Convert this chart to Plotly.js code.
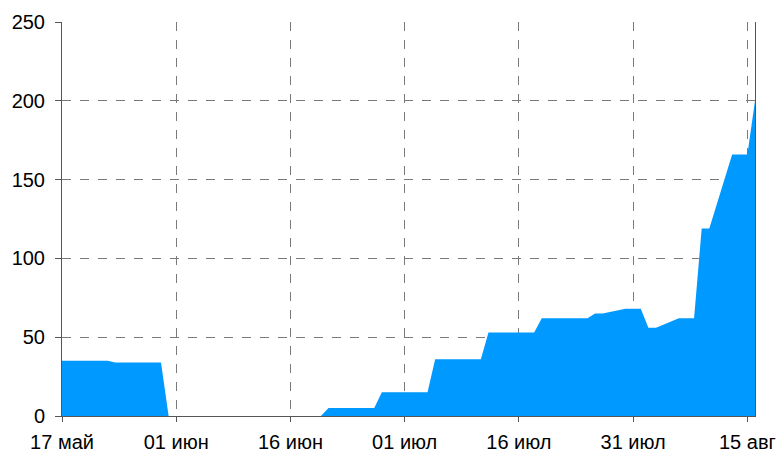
<!DOCTYPE html>
<html>
<head>
<meta charset="utf-8">
<script src="https://cdn.plot.ly/plotly-3.0.1.min.js"></script>
<style>
  html, body { margin: 0; padding: 0; background: #ffffff; }
  #chart { width: 781px; height: 455px; }
</style>
</head>
<body>
<div id="chart"></div>
<script>
// Daily count, listed at the days where the level changes
const dates = [
  '2020-05-17', '2020-05-23', '2020-05-24', '2020-05-30', '2020-05-31',
  '2020-06-20', '2020-06-21', '2020-06-27', '2020-06-28',
  '2020-07-04', '2020-07-05', '2020-07-11', '2020-07-12',
  '2020-07-18', '2020-07-19', '2020-07-25', '2020-07-26',
  '2020-07-27', '2020-07-30', '2020-08-01', '2020-08-02',
  '2020-08-03', '2020-08-06', '2020-08-08', '2020-08-09',
  '2020-08-10', '2020-08-13', '2020-08-15', '2020-08-16'
];
const counts = [
  35, 35, 34, 34, 0,
  0, 5, 5, 15,
  15, 36, 36, 53,
  53, 62, 62, 65,
  65, 68, 68, 56,
  56, 62, 62, 119,
  119, 166, 166, 200
];

// Axis ticks
const xTickDates = ['2020-05-17', '2020-06-01', '2020-06-16', '2020-07-01', '2020-07-16', '2020-07-31', '2020-08-15'];
const xTickLabels = ['17 май', '01 июн', '16 июн', '01 июл', '16 июл', '31 июл', '15 авг'];
const yTickValues = [0, 50, 100, 150, 200, 250];

const trace = {
  type: 'scatter',
  mode: 'lines',
  x: dates,
  y: counts,
  fill: 'tozeroy',
  fillcolor: '#0099ff',
  line: { width: 0, color: '#0099ff' },
  hoverinfo: 'x+y'
};

const layout = {
  width: 781,
  height: 455,
  margin: { l: 62, r: 26, t: 22, b: 39 },
  paper_bgcolor: '#ffffff',
  plot_bgcolor: '#ffffff',
  showlegend: false,
  font: { family: '"Liberation Sans", Arial, sans-serif', size: 20, color: '#000000' },
  xaxis: {
    type: 'date',
    range: ['2020-05-17', '2020-08-16'],
    tickmode: 'array',
    tickvals: xTickDates,
    ticktext: xTickLabels,
    ticks: 'outside',
    ticklen: 5,
    tickcolor: '#555555',
    ticklabelstandoff: 3,
    showgrid: true,
    gridcolor: '#7a7a7a',
    griddash: 'dash',
    gridwidth: 1,
    showline: true,
    linecolor: '#555555',
    linewidth: 1,
    zeroline: false,
    fixedrange: true
  },
  yaxis: {
    range: [0, 250],
    tickmode: 'array',
    tickvals: yTickValues,
    ticks: 'outside',
    ticklen: 6,
    tickcolor: '#555555',
    ticklabelstandoff: 6,
    showgrid: true,
    gridcolor: '#7a7a7a',
    griddash: 'dash',
    gridwidth: 1,
    showline: true,
    mirror: true,
    linecolor: '#555555',
    linewidth: 1,
    zeroline: false,
    fixedrange: true
  }
};

Plotly.newPlot('chart', [trace], layout, { displayModeBar: false, staticPlot: true });
</script>
</body>
</html>
